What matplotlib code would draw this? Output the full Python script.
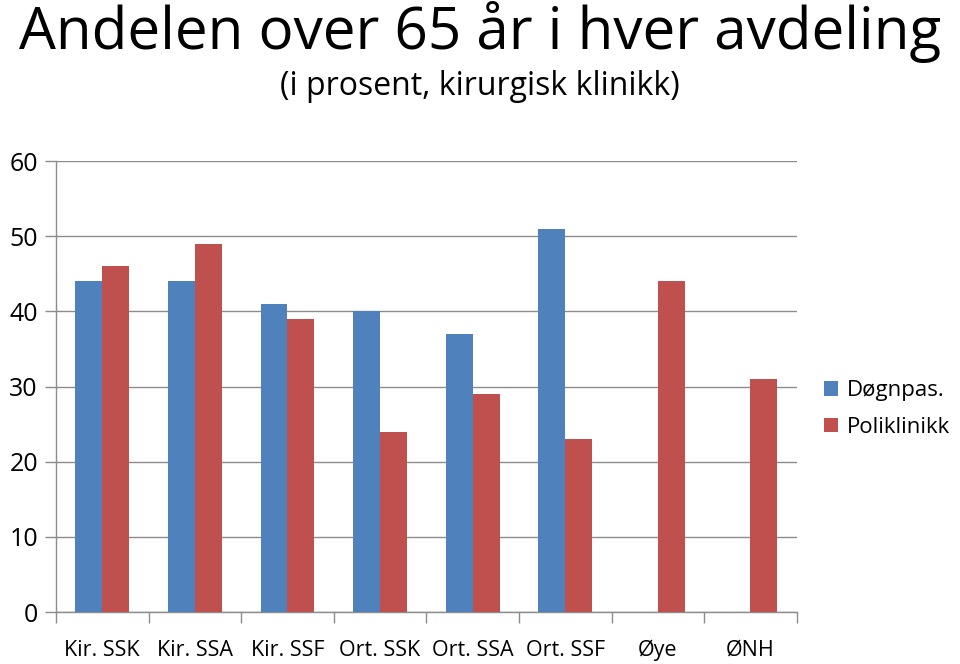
import matplotlib.pyplot as plt
import numpy as np

categories = ["Kir. SSK", "Kir. SSA", "Kir. SSF", "Ort. SSK", "Ort. SSA", "Ort. SSF", "Øye", "ØNH"]
dognpas = [44, 44, 41, 40, 37, 51, 0, 0]
poliklinikk = [46, 49, 39, 24, 29, 23, 44, 31]
series_names = ["Døgnpas.", "Poliklinikk"]

plt.rcParams["font.family"] = ["Open Sans", "DejaVu Sans"]

fig = plt.figure(figsize=(9.6, 6.64), dpi=100)
ax = fig.add_axes([0.0583, 0.0783, 0.7717, 0.6792])

x = np.arange(len(categories))
w = 0.29
ax.bar(x - w / 2, dognpas, w, color="#4F81BD", label=series_names[0], zorder=3)
ax.bar(x + w / 2, poliklinikk, w, color="#C0504D", label=series_names[1], zorder=3)

ax.set_xlim(-0.5, len(categories) - 0.5)
ax.set_ylim(0, 60)
ax.set_yticks(range(0, 61, 10))
ax.yaxis.grid(True, color="#8c8c8c", lw=1, zorder=0)
ax.set_xticks(x)
ax.set_xticklabels(categories, fontsize=15.5)
ax.set_xticks(np.arange(-0.5, len(categories)), minor=True)
ax.tick_params(axis="x", which="major", length=0, pad=20)
ax.tick_params(axis="x", which="minor", length=8, color="#8c8c8c", width=1)
ax.tick_params(axis="y", length=8, color="#8c8c8c", width=1, labelsize=18, pad=5)
for s in ["top", "right"]:
    ax.spines[s].set_visible(False)
for s in ["left", "bottom"]:
    ax.spines[s].set_color("#8c8c8c")
    ax.spines[s].set_linewidth(1)

fig.text(0.5, 0.998, "Andelen over 65 år i hver avdeling", ha="center", va="top", fontsize=42)
fig.text(0.5, 0.895, "(i prosent, kirurgisk klinikk)", ha="center", va="top", fontsize=23)

ax.legend(loc="center left", bbox_to_anchor=(1.01, 0.45), frameon=False, fontsize=16,
          handlelength=0.6, handleheight=0.6, handletextpad=0.4, labelspacing=0.7)

fig.savefig("out.png", dpi=100)
